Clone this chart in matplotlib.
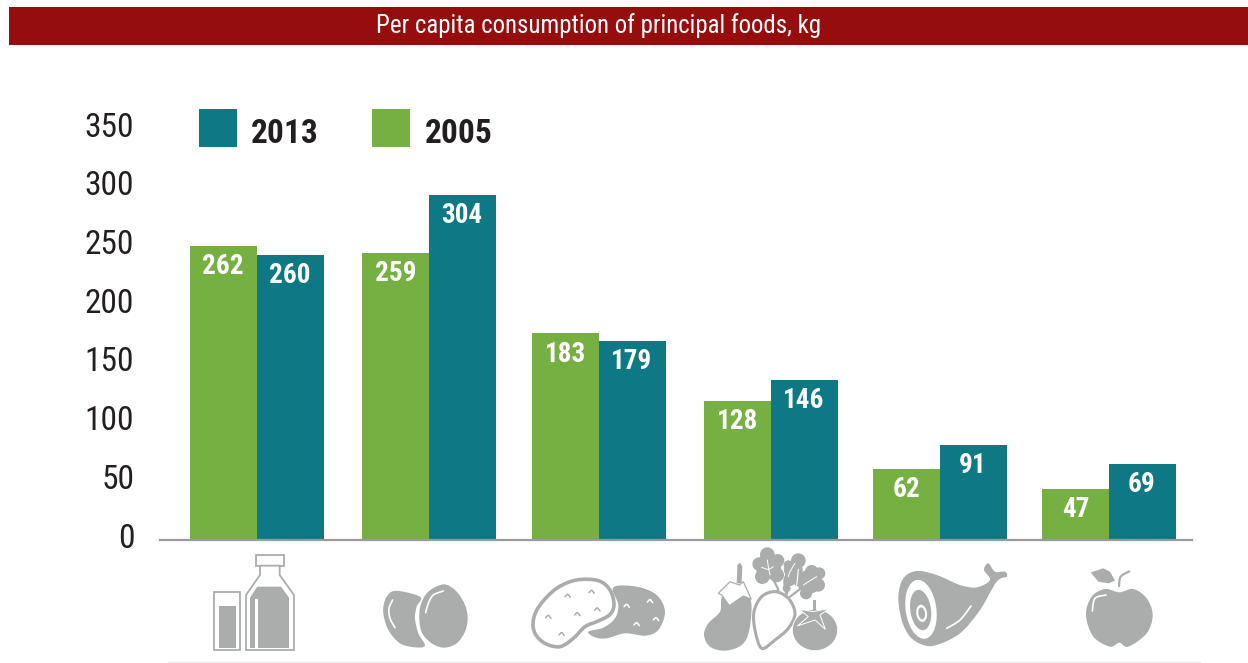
import matplotlib
matplotlib.use('Agg')
import matplotlib.pyplot as plt
import numpy as np
from matplotlib.path import Path
from matplotlib.patches import PathPatch, Rectangle, Ellipse, Polygon
from matplotlib.transforms import ScaledTranslation
import logging
logging.getLogger('matplotlib.font_manager').setLevel(logging.ERROR)

foods = ['milk', 'eggs', 'potatoes', 'vegetables', 'meat', 'fruit']
h2005 = [250.5, 244.5, 176, 118.5, 60.5, 43.5]
h2013 = [243, 294, 169.5, 136.5, 81, 65]
lab2005 = ['262', '259', '183', '128', '62', '47']
lab2013 = ['260', '304', '179', '146', '91', '69']
yticks = [0, 50, 100, 150, 200, 250, 300, 350]
group_x = [256.5, 429, 599, 771, 940, 1109]

TEAL = '#0f7885'
GREEN = '#76b043'
RED = '#960d0e'
GREY = '#abadac'
INK = '#231f20'
W, H = 1248, 663

# a narrow sans is closest, falls back to plain Liberation if there is none
plt.rcParams['font.family'] = ['Roboto Condensed', 'Archivo Narrow', 'Liberation Sans Narrow', 'Liberation Sans', 'DejaVu Sans']

fig = plt.figure(figsize=(W / 100, H / 100), dpi=100)

# main chart, x in figure pixels, y in kg (1.174 px per kg, baseline at y=540)
x0, x1, ytop = 160, 1192, 100
ax = fig.add_axes([x0 / W, 1 - 540 / H, (x1 - x0) / W, (540 - ytop) / H])
ax.set_xlim(x0, x1)
ax.set_ylim(0, (540 - ytop) / 1.174)
bw = 67
x = np.array(group_x)
ax.bar(x - bw / 2, h2005, bw, color=GREEN, zorder=2)
ax.bar(x + bw / 2, h2013, bw, color=TEAL, zorder=2)
for i in range(len(foods)):
    ax.annotate(lab2005[i], (x[i] - bw / 2, h2005[i]), xytext=(0, -15), textcoords='offset points',
                ha='center', va='center', color='white', fontsize=19.5, fontweight='bold', zorder=3)
    ax.annotate(lab2013[i], (x[i] + bw / 2, h2013[i]), xytext=(-0.5, -15), textcoords='offset points',
                ha='center', va='center', color='white', fontsize=19.5, fontweight='bold', zorder=3)

for s in ['top', 'right', 'left']:
    ax.spines[s].set_visible(False)
ax.spines['bottom'].set_color('#9a9a9e')
ax.spines['bottom'].set_linewidth(1.6)
ax.set_xticks([])
ax.set_yticks(yticks)
ax.tick_params(axis='y', length=0, pad=18.5, labelsize=24, labelcolor=INK)
# the numbers sit a little above their gridline position in the original
for tick in ax.yaxis.get_major_ticks():
    tick.label1.set_transform(tick.label1.get_transform() + ScaledTranslation(0, 0.05, fig.dpi_scale_trans))

# overlay in pixel coordinates for banner, legend and icons
ov = fig.add_axes([0, 0, 1, 1], facecolor='none')
ov.set_xlim(0, W)
ov.set_ylim(H, 0)
ov.axis('off')

ov.add_patch(Rectangle((9, 7), W - 9, 38, color=RED, lw=0))
ov.text(599, 26, 'Per capita consumption of principal foods, kg', color='white',
        fontsize=17.9, ha='center', va='center')

ov.add_patch(Rectangle((199, 109), 38, 38, color=TEAL, lw=0))
ov.add_patch(Rectangle((372, 109), 38, 38, color=GREEN, lw=0))
ov.text(251, 134, '2013', color=INK, fontsize=24, fontweight='bold', va='center')
ov.text(425, 134, '2005', color=INK, fontsize=24, fontweight='bold', va='center')
ov.plot([168, 1200], [661.5, 661.5], color='#eeeeee', lw=1)


def smooth(pts, closed=True):
    # catmull-rom through the points, as a bezier path
    p = np.array(pts, float)
    n = len(p)
    verts = [p[0]]
    codes = [Path.MOVETO]
    for i in range(n if closed else n - 1):
        if closed:
            a, b, c, d = p[(i - 1) % n], p[i], p[(i + 1) % n], p[(i + 2) % n]
        else:
            a, b, c, d = p[max(i - 1, 0)], p[i], p[i + 1], p[min(i + 2, n - 1)]
        verts += [b + (c - a) / 6, c - (d - b) / 6, c]
        codes += [Path.CURVE4] * 3
    return Path(verts, codes)


def Z(pts, ox):
    return [(ox + px / 3, 530 + py / 3) for px, py in pts]


def blob(pts, ox, fc=GREY, ec='none', lw=0, z=5):
    ov.add_patch(PathPatch(smooth(Z(pts, ox)), fc=fc, ec=ec, lw=lw, zorder=z))


def stroke(pts, ox, color='white', lw=1.2, z=6):
    ov.add_patch(PathPatch(smooth(Z(pts, ox), closed=False), fc='none', ec=color, lw=lw,
                           capstyle='round', zorder=z))


def poly(pts, ox, fc=GREY, ec='none', lw=0, z=5):
    ov.add_patch(Polygon(Z(pts, ox), closed=True, fc=fc, ec=ec, lw=lw, zorder=z, joinstyle='miter'))


# milk
a = 170
poly([(132, 186), (210, 186), (210, 360), (132, 360)], a, fc='white', ec=GREY, lw=1.3)
poly([(146, 228), (197, 228), (197, 354), (146, 354)], a)
poly([(257, 75), (342, 75), (342, 107), (257, 107)], a, fc='white', ec=GREY, lw=1.3)
poly([(270, 107), (270, 135), (228, 195), (228, 360), (372, 360), (372, 195), (329, 135), (329, 107)], a,
     fc='white', ec=GREY, lw=1.3)
poly([(262, 170), (333, 170), (357, 203), (357, 354), (240, 354), (240, 203)], a)
poly([(255, 206), (265, 206), (265, 354), (255, 354)], a, fc='white', z=6)

# eggs
blob([(752, 202), (700, 185), (665, 185), (645, 210), (640, 250), (655, 300), (690, 340), (735, 352), (765, 347),
      (745, 310), (735, 265), (740, 230)], a)
blob([(822, 163), (860, 185), (885, 225), (893, 265), (885, 305), (860, 340), (822, 353), (785, 340), (757, 310),
      (748, 270), (752, 225), (775, 185)], a)
stroke([(820, 183), (790, 195), (775, 220), (767, 248)], a)
stroke([(668, 210), (657, 235), (660, 265), (675, 293)], a)

# potatoes
blob([(1330, 172), (1400, 170), (1460, 195), (1485, 245), (1465, 300), (1425, 317), (1365, 310), (1310, 325),
      (1275, 322), (1255, 305), (1300, 293), (1335, 265), (1345, 225)], a)
blob([(1090, 270), (1110, 225), (1160, 175), (1220, 150), (1285, 152), (1320, 180), (1332, 225), (1318, 255),
      (1280, 275), (1245, 290), (1210, 325), (1170, 350), (1125, 340), (1095, 310)], a, fc='white', ec=GREY, lw=2.6, z=6)
for cx, cy in [(1193, 197), (1265, 185), (1222, 252), (1282, 238), (1135, 260), (1175, 312)]:
    stroke([(cx - 8, cy + 3), (cx, cy - 4), (cx + 8, cy + 5)], a, color=GREY, lw=1.1, z=7)
for cx, cy in [(1370, 227), (1440, 213), (1400, 282), (1458, 267)]:
    stroke([(cx - 8, cy + 3), (cx, cy - 4), (cx + 8, cy + 5)], a, lw=1.1, z=7)

# vegetables
b = 680
blob([(127, 200), (120, 245), (85, 280), (72, 315), (90, 350), (135, 362), (185, 345), (208, 300), (212, 210),
      (170, 190)], b)
poly([(170, 160), (172, 105), (180, 98), (187, 110), (185, 160)], b)
poly([(115, 190), (150, 155), (178, 165), (190, 155), (214, 208), (190, 198), (148, 227), (125, 195)], b,
     fc='white', ec=GREY, lw=0.9, z=6)
stroke([(285, 185), (295, 180), (275, 140)], b, color=GREY, lw=1.6)
stroke([(320, 190), (315, 150), (330, 120)], b, color=GREY, lw=2.4)
stroke([(330, 200), (350, 185), (375, 165)], b, color=GREY, lw=1.6)
for cx, cy, r in [(265, 110, 38), (262, 74, 22), (237, 102, 20), (247, 140, 22), (290, 135, 22), (293, 92, 20),
                  (340, 120, 28), (355, 92, 22), (325, 105, 14), (330, 150, 18), (320, 175, 12),
                  (388, 155, 36), (395, 125, 20), (418, 130, 18), (415, 165, 20), (378, 190, 18), (355, 155, 14)]:
    ov.add_patch(Ellipse((b + cx / 3, 530 + cy / 3), 2 * r / 3, 2 * r / 3, fc=GREY, lw=0, zorder=5))
stroke([(262, 90), (265, 110), (270, 135)], b, lw=0.7)
stroke([(245, 112), (265, 118), (280, 110)], b, lw=0.7)
stroke([(345, 100), (330, 125), (325, 140)], b, lw=0.7)
stroke([(370, 165), (390, 152), (410, 140)], b, lw=0.7)
stroke([(355, 118), (352, 150), (350, 165)], b, lw=0.8)
blob([(245, 355), (225, 300), (222, 245), (245, 200), (285, 185), (325, 205), (345, 250), (325, 295), (285, 330)], b,
     fc='white', ec=GREY, lw=2.2, z=6)
ov.add_patch(Ellipse((b + 405 / 3, 530 + 300 / 3), 136 / 3, 124 / 3, fc=GREY, ec='white', lw=0.6, zorder=7))
poly([(400, 210), (408, 210), (408, 245), (400, 245)], b, z=7)
poly([(358, 238), (400, 245), (448, 235), (420, 255), (436, 298), (405, 270), (352, 288), (385, 260)], b,
     fc=GREY, ec='white', lw=0.7, z=8)

# meat
blob([(655, 200), (670, 145), (710, 123), (770, 135), (840, 165), (890, 172), (930, 150), (912, 120), (925, 100),
      (945, 125), (975, 125), (980, 140), (950, 155), (900, 240), (840, 310), (770, 345), (730, 345), (690, 320),
      (665, 270)], b)
ov.add_patch(Ellipse((b + 723 / 3, 530 + 238 / 3), 92 / 3, 178 / 3, angle=-8, fc='white', lw=0, zorder=6))
ov.add_patch(Ellipse((b + 722 / 3, 530 + 240 / 3), 62 / 3, 122 / 3, angle=-8, fc=GREY, lw=0, zorder=7))
ov.add_patch(Ellipse((b + 725 / 3, 530 + 250 / 3), 32 / 3, 52 / 3, angle=-8, fc='white', lw=0, zorder=8))
ov.add_patch(Ellipse((b + 725 / 3, 530 + 250 / 3), 20 / 3, 36 / 3, angle=-8, fc=GREY, lw=0, zorder=9))
stroke([(873, 228), (840, 270), (800, 295)], b)

# fruit
blob([(1318, 187), (1360, 177), (1400, 205), (1418, 255), (1400, 310), (1345, 350), (1318, 338), (1290, 350),
      (1240, 320), (1218, 255), (1235, 200), (1275, 177)], b)
poly([(1232, 127), (1270, 115), (1290, 125), (1305, 152), (1285, 160), (1255, 155)], b)
stroke([(1317, 168), (1322, 140), (1348, 124)], b, color=GREY, lw=1.6)
stroke([(1237, 243), (1245, 205), (1278, 195)], b)

fig.savefig('out.png', dpi=100)
